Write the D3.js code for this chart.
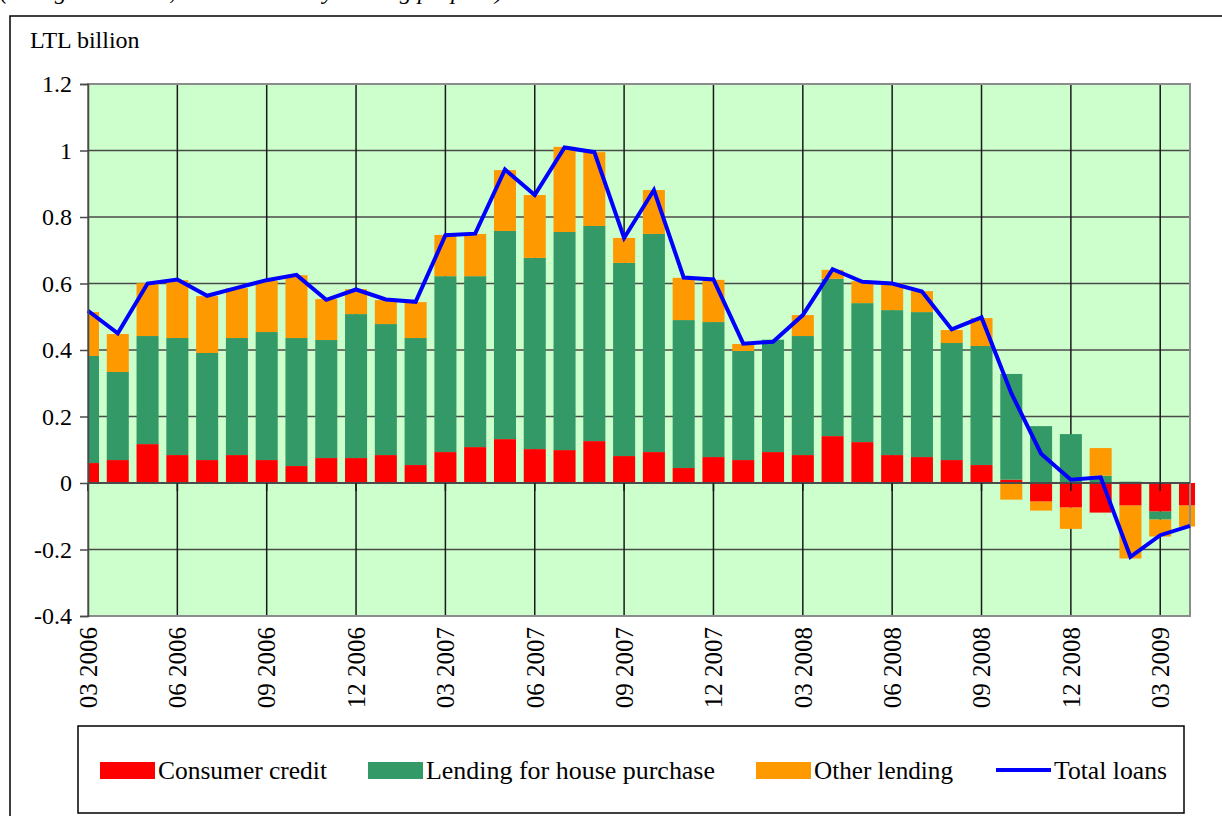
<!DOCTYPE html>
<html>
<head>
<meta charset="utf-8">
<script src="https://cdn.jsdelivr.net/npm/d3@7"></script>
<style>
  html, body { margin: 0; padding: 0; background: #fff; }
  svg { display: block; }
  svg text { font-family: "Liberation Serif", "Times New Roman", serif; }
</style>
</head>
<body>
<svg id="chart" width="1222" height="816"></svg>
<script>
// ---- data ----
const months = ["03 2006","04 2006","05 2006","06 2006","07 2006","08 2006","09 2006","10 2006","11 2006","12 2006",
  "01 2007","02 2007","03 2007","04 2007","05 2007","06 2007","07 2007","08 2007","09 2007","10 2007","11 2007","12 2007",
  "01 2008","02 2008","03 2008","04 2008","05 2008","06 2008","07 2008","08 2008","09 2008","10 2008","11 2008","12 2008",
  "01 2009","02 2009","03 2009","04 2009"];
const tickLabels = ["03 2006","06 2006","09 2006","12 2006","03 2007","06 2007","09 2007","12 2007","03 2008","06 2008","09 2008","12 2008","03 2009"];
const consumerCredit = [0.060,0.069,0.117,0.084,0.069,0.084,0.069,0.051,0.075,0.075,
  0.084,0.054,0.093,0.108,0.132,0.102,0.099,0.126,0.081,0.093,0.045,0.078,
  0.069,0.093,0.084,0.141,0.123,0.084,0.078,0.069,0.054,0.010,-0.056,-0.074,
  -0.089,-0.068,-0.086,-0.068];
const housePurchase = [0.322,0.265,0.325,0.352,0.322,0.352,0.385,0.385,0.355,0.433,
  0.394,0.382,0.529,0.514,0.626,0.575,0.656,0.647,0.581,0.656,0.445,0.406,
  0.328,0.338,0.358,0.473,0.418,0.436,0.436,0.352,0.358,0.318,0.171,0.147,
  0.022,0.004,-0.024,0.000];
const otherLending = [0.132,0.114,0.159,0.174,0.171,0.150,0.154,0.189,0.123,0.075,
  0.072,0.108,0.124,0.127,0.183,0.189,0.256,0.222,0.075,0.132,0.127,0.127,
  0.021,0.000,0.063,0.027,0.066,0.080,0.063,0.039,0.084,-0.050,-0.027,-0.064,
  0.083,-0.159,-0.051,-0.063];
const totalLoans = [0.518,0.450,0.600,0.612,0.563,0.587,0.610,0.626,0.551,0.582,
  0.552,0.545,0.745,0.750,0.943,0.866,1.009,0.995,0.737,0.881,0.618,0.612,
  0.419,0.425,0.505,0.643,0.605,0.600,0.576,0.462,0.498,0.270,0.088,0.010,
  0.017,-0.222,-0.157,-0.129];
const yTicks = [-0.4,-0.2,0,0.2,0.4,0.6,0.8,1,1.2];
const yTickLabels = ["-0.4","-0.2","0","0.2","0.4","0.6","0.8","1","1.2"];
const seriesNames = ["Consumer credit","Lending for house purchase","Other lending","Total loans"];
const seriesColors = ["#FF0000","#339966","#FF9900","#0000FF"];

// ---- layout ----
const FONT = "Liberation Serif, Times New Roman, serif";
const svg = d3.select("#chart");
const plot = {left: 88, right: 1190, top: 84, bottom: 616};

const x = d3.scalePoint().domain(months).range([plot.left, plot.right]).padding(0);
const y = d3.scaleLinear().domain([-0.4, 1.2]).range([plot.bottom, plot.top]);
const barW = x.step() * 0.74;

// cut-off heading at very top (only its lower part is visible, as in the source)
svg.append("text").attr("x", 0).attr("y", -1)
  .style("font-family", FONT)
  .attr("font-size", 24).attr("font-style", "italic")
  .text("(changes in loans, broken down by lending purpose)");

// outer frame
svg.append("path").attr("d", `M10,830 L10,16 L1230,16`)
  .attr("fill", "none").attr("stroke", "#000").attr("stroke-width", 1.5);

// unit label
svg.append("text").attr("x", 30).attr("y", 48).attr("font-size", 24)
  .style("font-family", FONT).text("LTL billion");

// plot background
svg.append("rect").attr("x", plot.left).attr("y", plot.top)
  .attr("width", plot.right - plot.left).attr("height", plot.bottom - plot.top)
  .attr("fill", "#CCFFCC");

// horizontal gridlines
svg.append("g").selectAll("line").data(yTicks).join("line")
  .attr("x1", plot.left).attr("x2", plot.right)
  .attr("y1", d => y(d)).attr("y2", d => y(d))
  .attr("stroke", "#4a4a4a").attr("stroke-width", 1.5);

// vertical gridlines at labelled months
svg.append("g").selectAll("line").data(tickLabels).join("line")
  .attr("x1", d => x(d)).attr("x2", d => x(d))
  .attr("y1", plot.top).attr("y2", plot.bottom)
  .attr("stroke", "#1a1a1a").attr("stroke-width", 1.5);

// clip
svg.append("clipPath").attr("id", "clip").append("rect")
  .attr("x", plot.left).attr("y", plot.top - 5)
  .attr("width", plot.right - plot.left + 5).attr("height", plot.bottom - plot.top + 10);

// stacked bars
const rows = months.map((m, i) => ({month: m, c: consumerCredit[i], h: housePurchase[i], o: otherLending[i]}));
const stack = d3.stack().keys(["c","h","o"]).offset(d3.stackOffsetDiverging);
const stacked = stack(rows);

const gBars = svg.append("g").attr("clip-path", "url(#clip)");
gBars.selectAll("g").data(stacked).join("g")
  .attr("fill", (d, i) => seriesColors[i])
  .selectAll("rect").data(d => d).join("rect")
  .attr("x", d => x(d.data.month) - barW / 2)
  .attr("width", barW)
  .attr("y", d => y(Math.max(d[0], d[1])))
  .attr("height", d => Math.abs(y(d[0]) - y(d[1])));

// plot border
svg.append("rect").attr("x", plot.left).attr("y", plot.top)
  .attr("width", plot.right - plot.left).attr("height", plot.bottom - plot.top)
  .attr("fill", "none").attr("stroke", "#8c8c8c").attr("stroke-width", 2);

// zero axis line with ticks
svg.append("line").attr("x1", plot.left).attr("x2", plot.right)
  .attr("y1", y(0)).attr("y2", y(0)).attr("stroke", "#4a4a4a").attr("stroke-width", 2);
svg.append("g").selectAll("line").data(tickLabels).join("line")
  .attr("x1", d => x(d)).attr("x2", d => x(d))
  .attr("y1", y(0)).attr("y2", y(0) + 8)
  .attr("stroke", "#1a1a1a").attr("stroke-width", 1.5);

// total loans line
svg.append("path").datum(totalLoans)
  .attr("fill", "none").attr("stroke", seriesColors[3]).attr("stroke-width", 4)
  .attr("stroke-linejoin", "miter")
  .attr("d", d3.line().x((d, i) => x(months[i])).y(d => y(d)));

// y axis
const yAxis = d3.axisLeft(y).tickValues(yTicks).tickSize(8).tickPadding(8)
  .tickFormat((d, i) => yTickLabels[i]);
const gy = svg.append("g").attr("transform", `translate(${plot.left},0)`).call(yAxis);
gy.attr("font-family", null).attr("font-size", null);
gy.select(".domain").attr("stroke", "#4a4a4a").attr("stroke-width", 1.5);
gy.selectAll(".tick line").attr("stroke", "#4a4a4a").attr("stroke-width", 1.5);
gy.selectAll(".tick text").style("font-family", FONT).style("font-size", "24px").attr("fill", "#000");

// x labels (rotated)
svg.append("g").selectAll("text").data(tickLabels).join("text")
  .attr("transform", d => `translate(${x(d)},627) rotate(-90)`)
  .attr("text-anchor", "end").attr("dy", "0.35em")
  .style("font-family", FONT)
  .attr("font-size", 25).text(d => d);

// legend
svg.append("rect").attr("x", 78).attr("y", 726).attr("width", 1106).attr("height", 87)
  .attr("fill", "#fff").attr("stroke", "#000").attr("stroke-width", 1.5);
const legendX = [100, 368, 756, 996];
const legendW = [169, 289, 139, 113];
const lg = svg.append("g").selectAll("g").data(seriesNames).join("g")
  .attr("transform", (d, i) => `translate(${legendX[i]},770)`);
lg.each(function(d, i) {
  const g = d3.select(this);
  if (i < 3) {
    g.append("rect").attr("x", 0).attr("y", -8).attr("width", 55).attr("height", 17).attr("fill", seriesColors[i]);
  } else {
    g.append("line").attr("x1", 0).attr("x2", 55).attr("y1", 0).attr("y2", 0)
      .attr("stroke", seriesColors[i]).attr("stroke-width", 4);
  }
  g.append("text").attr("x", 58).attr("y", 0).attr("dy", "0.35em")
    .style("font-family", FONT).attr("font-size", 25)
    .attr("textLength", legendW[i]).attr("lengthAdjust", "spacingAndGlyphs")
    .text(d);
});
</script>
</body>
</html>
